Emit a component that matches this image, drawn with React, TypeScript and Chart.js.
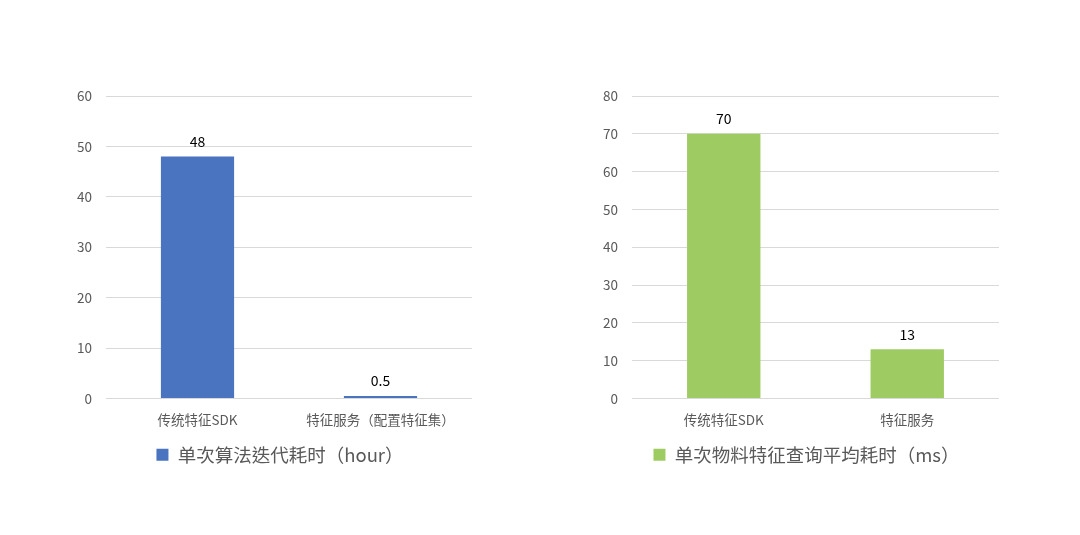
import React, { useEffect, useRef } from "react";
import { Chart, registerables } from "chart.js";

Chart.register(...registerables);

const leftCategories = ["传统特征SDK", "特征服务（配置特征集）"];
const leftValues = [48, 0.5];
const leftLabels = ["48", "0.5"];
const leftSeries = "单次算法迭代耗时（hour）";

const rightCategories = ["传统特征SDK", "特征服务"];
const rightValues = [70, 13];
const rightLabels = ["70", "13"];
const rightSeries = "单次物料特征查询平均耗时（ms）";

const FONT = "'Noto Sans CJK TC', 'Noto Sans CJK SC', 'Noto Sans', sans-serif";

const valueLabelPlugin = {
  id: "valueLabels",
  afterDatasetsDraw(chart: any, _args: any, opts: any) {
    const ctx = chart.ctx;
    const meta = chart.getDatasetMeta(0);
    ctx.save();
    ctx.font = `14px ${FONT}`;
    ctx.fillStyle = "#000000";
    ctx.textAlign = "center";
    ctx.textBaseline = "bottom";
    meta.data.forEach((bar: any, i: number) => {
      ctx.fillText(opts.labels[i], bar.x, bar.y - 8);
    });
    ctx.restore();
  },
};

const legendShiftPlugin = {
  id: "legendShift",
  afterLayout(chart: any, _args: any, opts: any) {
    const lg = chart.legend;
    if (lg && opts && opts.dx) {
      lg.left += opts.dx;
      lg.right += opts.dx;
    }
  },
};

function BarChart(props: {
  categories: string[];
  values: number[];
  labels: string[];
  series: string;
  color: string;
  max: number;
  padLeft: number;
  padRight: number;
  legendDx: number;
}) {
  const ref = useRef<HTMLCanvasElement>(null);
  useEffect(() => {
    if (!ref.current) return;
    const chart = new Chart(ref.current, {
      type: "bar",
      data: {
        labels: props.categories,
        datasets: [
          {
            label: props.series,
            data: props.values,
            backgroundColor: props.color,
            borderWidth: 0,
            categoryPercentage: 1,
            barPercentage: 0.4,
          },
        ],
      },
      plugins: [valueLabelPlugin, legendShiftPlugin],
      options: {
        responsive: false,
        animation: false,
        layout: {
          padding: { top: 96, left: props.padLeft, right: props.padRight, bottom: 61 },
        },
        plugins: {
          tooltip: { enabled: false },
          valueLabels: { labels: props.labels },
          legendShift: { dx: props.legendDx },
          legend: {
            display: true,
            position: "bottom",
            labels: {
              boxWidth: 12,
              boxHeight: 12,
              padding: 10,
              color: "#595959",
              font: { family: FONT, size: 18.5 },
            },
          },
        } as any,
        scales: {
          x: {
            grid: { display: false, drawTicks: false },
            border: { display: false },
            ticks: {
              color: "#595959",
              font: { family: FONT, size: 13.5 },
              padding: 13,
              maxRotation: 0,
              autoSkip: false,
            },
            afterFit: (axis: any) => {
              axis.height = 37;
            },
          },
          y: {
            min: 0,
            max: props.max,
            grid: { color: "#d9d9d9", lineWidth: 1, drawTicks: false },
            border: { display: false },
            ticks: {
              stepSize: 10,
              color: "#595959",
              font: { family: FONT, size: 13.5 },
              padding: 14,
            },
            afterFit: (axis: any) => {
              axis.width = 40;
            },
          },
        },
      } as any,
    });
    return () => chart.destroy();
  }, []);
  return <canvas ref={ref} width={540} height={535} />;
}

export default function App() {
  return (
    <div
      style={{
        position: "absolute",
        left: 0,
        top: 0,
        width: 1080,
        height: 535,
        background: "#ffffff",
        display: "flex",
      }}
    >
      <div style={{ width: 540, height: 535 }}>
        <BarChart
          categories={leftCategories}
          values={leftValues}
          labels={leftLabels}
          series={leftSeries}
          color="#4a73c0"
          max={60}
          padLeft={66}
          padRight={68}
          legendDx={11}
        />
      </div>
      <div style={{ width: 540, height: 535 }}>
        <BarChart
          categories={rightCategories}
          values={rightValues}
          labels={rightLabels}
          series={rightSeries}
          color="#9fcc62"
          max={80}
          padLeft={52}
          padRight={81}
          legendDx={11}
        />
      </div>
    </div>
  );
}
